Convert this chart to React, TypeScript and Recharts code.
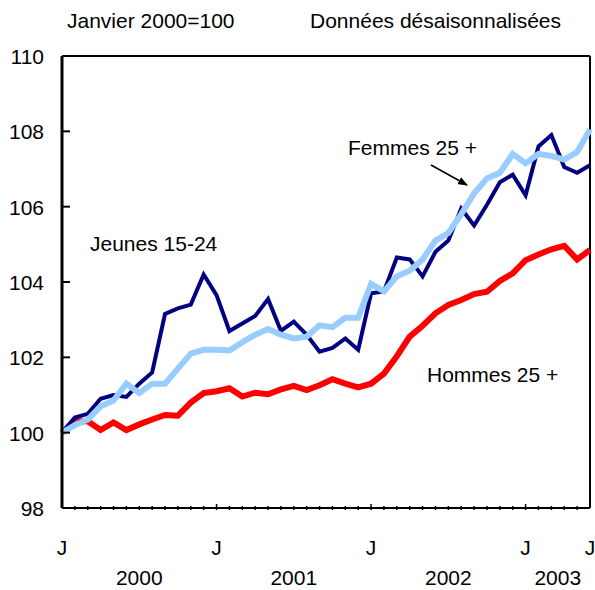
import { LineChart, Line, XAxis, YAxis, ReferenceLine } from "recharts";

// monthly index, Jan 2000 = 100, seasonally adjusted
const months = [
  "2000-01", "2000-02", "2000-03", "2000-04", "2000-05", "2000-06",
  "2000-07", "2000-08", "2000-09", "2000-10", "2000-11", "2000-12",
  "2001-01", "2001-02", "2001-03", "2001-04", "2001-05", "2001-06",
  "2001-07", "2001-08", "2001-09", "2001-10", "2001-11", "2001-12",
  "2002-01", "2002-02", "2002-03", "2002-04", "2002-05", "2002-06",
  "2002-07", "2002-08", "2002-09", "2002-10", "2002-11", "2002-12",
  "2003-01", "2003-02", "2003-03", "2003-04", "2003-05", "2003-06",
];

const jeunes = [
  100, 100.4, 100.5, 100.9, 101.0, 100.95, 101.3, 101.6, 103.15, 103.3, 103.4, 104.2,
  103.65, 102.7, 102.9, 103.1, 103.55, 102.7, 102.95, 102.6, 102.15, 102.25, 102.5, 102.2,
  103.7, 103.75, 104.65, 104.6, 104.15, 104.8, 105.1, 105.95, 105.5, 106.05, 106.65, 106.85,
  106.3, 107.6, 107.9, 107.05, 106.9, 107.1,
];

const femmes = [
  100, 100.2, 100.35, 100.7, 100.85, 101.3, 101.05, 101.3, 101.3, 101.7, 102.1, 102.2,
  102.2, 102.18, 102.4, 102.6, 102.75, 102.6, 102.5, 102.55, 102.85, 102.8, 103.05, 103.05,
  103.95, 103.75, 104.15, 104.3, 104.6, 105.1, 105.3, 105.8, 106.35, 106.75, 106.9, 107.4,
  107.15, 107.4, 107.35, 107.25, 107.45, 108.05,
];

const hommes = [
  100, 100.3, 100.3, 100.07, 100.27, 100.07, 100.22, 100.35, 100.47, 100.45, 100.8, 101.05,
  101.1, 101.18, 100.96, 101.06, 101.02, 101.15, 101.24, 101.13, 101.26, 101.42, 101.3, 101.2,
  101.3, 101.57, 102.03, 102.55, 102.84, 103.17, 103.39, 103.52, 103.68, 103.74, 104.03, 104.23,
  104.58, 104.73, 104.87, 104.96, 104.6, 104.85,
];

const yTicks = [98, 100, 102, 104, 106, 108, 110];
const monthLabels: Record<number, string> = { 0: "J", 12: "J", 24: "J", 36: "J", 41: "J" };
const yearLabels: Record<number, string> = { 6: "2000", 18: "2001", 30: "2002", 38.5: "2003" };

const data = months.map((m, i) => ({
  i,
  month: m,
  jeunes: jeunes[i],
  femmes: femmes[i],
  hommes: hommes[i],
}));

const xTicks = [...months.map((_, i) => i), 38.5].sort((a, b) => a - b);

const FONT = "'Liberation Sans', Arial, sans-serif";
const FS = 21;

function YTick(props: any) {
  const { x, y, payload } = props;
  return (
    <g>
      {payload.value !== 98 && payload.value !== 110 && (
        <line x1={x + 18} x2={x + 26} y1={y} y2={y} stroke="#000" strokeWidth={2} />
      )}
      <text x={x} y={y} dy={8} textAnchor="end" fontSize={FS} fontFamily={FONT} fill="#000">
        {payload.value}
      </text>
    </g>
  );
}

function XTick(props: any) {
  const { x, y, payload } = props;
  const v = payload.value;
  const isMonth = Number.isInteger(v);
  return (
    <g>
      {isMonth && v > 0 && v < 41 && (
        <line x1={x} x2={x} y1={y} y2={y - (monthLabels[v] ? 6 : 4)} stroke="#000" strokeWidth={1.5} />
      )}
      {monthLabels[v] && (
        <text x={x} y={y + 45} textAnchor="middle" fontSize={FS} fontFamily={FONT} fill="#000">
          {monthLabels[v]}
        </text>
      )}
      {yearLabels[v] && (
        <text x={x} y={y + 75} textAnchor="middle" fontSize={FS} fontFamily={FONT} fill="#000">
          {yearLabels[v]}
        </text>
      )}
    </g>
  );
}

export default function App() {
  return (
    <div style={{ position: "absolute", left: 0, top: 0, width: 595, height: 590, background: "#fff" }}>
      <LineChart width={595} height={590} data={data} margin={{ top: 56, right: 5, bottom: 0, left: 0 }}>
        <XAxis
          dataKey="i"
          type="number"
          domain={[0, 41]}
          ticks={xTicks}
          interval={0}
          height={82}
          tickSize={0}
          tickLine={false}
          axisLine={{ stroke: "#000", strokeWidth: 2 }}
          tick={<XTick />}
        />
        <YAxis
          domain={[98, 110]}
          ticks={yTicks}
          interval={0}
          width={62}
          tickSize={0}
          tickMargin={18}
          tickLine={false}
          axisLine={{ stroke: "#000", strokeWidth: 3 }}
          tick={<YTick />}
        />
        <ReferenceLine y={110} stroke="#000" strokeWidth={2} />
        <ReferenceLine x={41} stroke="#000" strokeWidth={2} />
        <Line dataKey="hommes" stroke="#ff0000" strokeWidth={6} dot={false} isAnimationActive={false} />
        <Line dataKey="jeunes" stroke="#000080" strokeWidth={4} dot={false} isAnimationActive={false} />
        <Line dataKey="femmes" stroke="#99ccff" strokeWidth={6} dot={false} isAnimationActive={false} />
      </LineChart>
      <svg
        width={595}
        height={590}
        style={{ position: "absolute", left: 0, top: 0, pointerEvents: "none" }}
        fontFamily={FONT}
        fontSize={FS}
      >
        <defs>
          <marker id="arrow" markerWidth="10" markerHeight="8" refX="9" refY="4" orient="auto" markerUnits="userSpaceOnUse">
            <path d="M0,0 L10,4 L0,8 z" fill="#000" />
          </marker>
        </defs>
        <text x={67} y={28}>Janvier 2000=100</text>
        <text x={310} y={28}>Données désaisonnalisées</text>
        <text x={90} y={251}>Jeunes 15-24</text>
        <text x={348} y={155}>Femmes 25 +</text>
        <text x={427} y={382}>Hommes 25 +</text>
        <line x1={431} y1={165} x2={467} y2={185} stroke="#000" strokeWidth={1.5} markerEnd="url(#arrow)" />
      </svg>
    </div>
  );
}
